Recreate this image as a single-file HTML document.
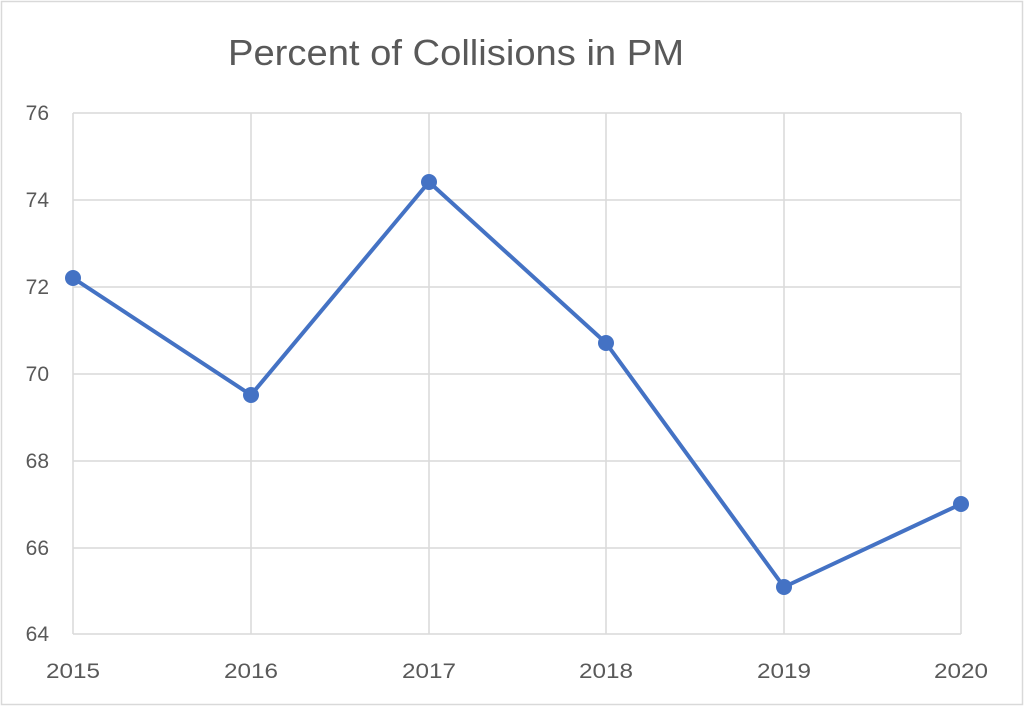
<!DOCTYPE html>
<html><head><style>body{margin:0;background:#fff}svg{display:block}</style></head>
<body>
<svg width="1024" height="707" xmlns="http://www.w3.org/2000/svg" font-family="Liberation Sans, sans-serif">
<rect x="1.5" y="1.5" width="1021" height="703" fill="#fff" stroke="#d9d9d9" stroke-width="1.5"/>
<text x="456" y="65" font-size="36" fill="#595959" text-anchor="middle" textLength="456" lengthAdjust="spacingAndGlyphs">Percent of Collisions in PM</text>
<g stroke="#d9d9d9" stroke-width="1.5">
<line x1="73" y1="113" x2="961" y2="113"/>
<line x1="73" y1="200" x2="961" y2="200"/>
<line x1="73" y1="287" x2="961" y2="287"/>
<line x1="73" y1="374" x2="961" y2="374"/>
<line x1="73" y1="461" x2="961" y2="461"/>
<line x1="73" y1="548" x2="961" y2="548"/>
<line x1="73" y1="634" x2="961" y2="634"/>
<line x1="73" y1="113" x2="73" y2="634"/>
<line x1="251" y1="113" x2="251" y2="634"/>
<line x1="429" y1="113" x2="429" y2="634"/>
<line x1="606" y1="113" x2="606" y2="634"/>
<line x1="784" y1="113" x2="784" y2="634"/>
<line x1="961" y1="113" x2="961" y2="634"/>
</g>
<g font-size="21" fill="#595959" text-anchor="end">
<text x="49" y="120">76</text><text x="49" y="207">74</text><text x="49" y="294">72</text>
<text x="49" y="381">70</text><text x="49" y="468">68</text><text x="49" y="555">66</text><text x="49" y="641">64</text>
</g>
<g font-size="21" fill="#595959" text-anchor="middle">
<text x="73" y="678" textLength="54" lengthAdjust="spacingAndGlyphs">2015</text><text x="251" y="678" textLength="54" lengthAdjust="spacingAndGlyphs">2016</text><text x="429" y="678" textLength="54" lengthAdjust="spacingAndGlyphs">2017</text>
<text x="606" y="678" textLength="54" lengthAdjust="spacingAndGlyphs">2018</text><text x="784" y="678" textLength="54" lengthAdjust="spacingAndGlyphs">2019</text><text x="961" y="678" textLength="54" lengthAdjust="spacingAndGlyphs">2020</text>
</g>
<polyline points="73,278 251,395 429,182 606,343 784,587 961,504" fill="none" stroke="#4472c4" stroke-width="4" stroke-linejoin="round"/>
<g fill="#4472c4">
<circle cx="73" cy="278" r="8"/><circle cx="251" cy="395" r="8"/><circle cx="429" cy="182" r="8"/>
<circle cx="606" cy="343" r="8"/><circle cx="784" cy="587" r="8"/><circle cx="961" cy="504" r="8"/>
</g>
</svg>
</body></html>
